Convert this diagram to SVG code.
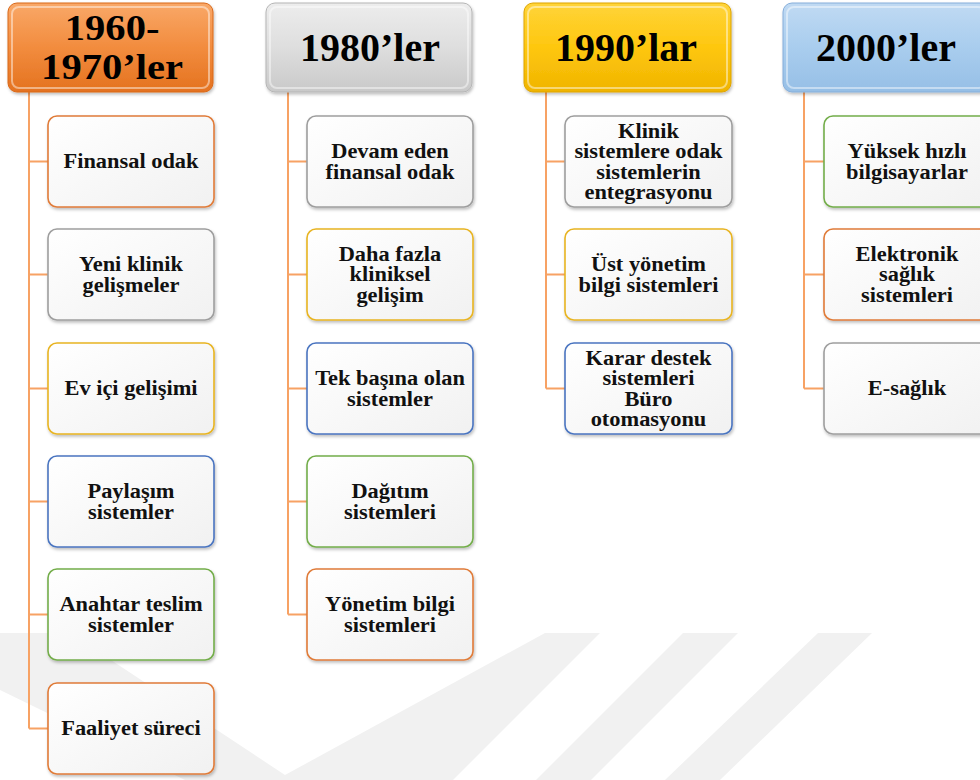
<svg xmlns="http://www.w3.org/2000/svg" width="980" height="780" viewBox="0 0 980 780">
<defs>
<style>
.hdr{font-family:"Liberation Serif","Times New Roman",serif;font-weight:bold;font-size:40px;fill:#000;text-anchor:middle}
.hdr2{font-family:"Liberation Serif","Times New Roman",serif;font-weight:bold;font-size:35px;fill:#000;text-anchor:middle}
.lbl{font-family:"Liberation Serif","Times New Roman",serif;font-weight:bold;font-size:20px;fill:#111;text-anchor:middle}
.box{fill:url(#boxg);stroke-width:1.6;filter:url(#sh)}
.bev{fill:none;stroke:#fff;stroke-opacity:.45;stroke-width:2}
.con{fill:none;stroke:#F7A264;stroke-width:2}
.wm{fill:#f1f1f1}
.c-or{stroke:#E07B39}.c-gr{stroke:#9E9E9E}.c-go{stroke:#E8B422}.c-bl{stroke:#4A74C0}.c-gn{stroke:#73AD4A}
</style>
<linearGradient id="boxg" x1="0" y1="0" x2="1" y2="1"><stop offset="0" stop-color="#ffffff"/><stop offset="1" stop-color="#f1f1f1"/></linearGradient>
<linearGradient id="gOr" x1="0" y1="0" x2="0" y2="1"><stop offset="0" stop-color="#F9A868"/><stop offset=".5" stop-color="#F28C3E"/><stop offset="1" stop-color="#E4721F"/></linearGradient>
<linearGradient id="gGr" x1="0" y1="0" x2="0" y2="1"><stop offset="0" stop-color="#EDEDED"/><stop offset=".5" stop-color="#DEDEDE"/><stop offset="1" stop-color="#C9C9C9"/></linearGradient>
<linearGradient id="gYe" x1="0" y1="0" x2="0" y2="1"><stop offset="0" stop-color="#FFD43A"/><stop offset=".5" stop-color="#FEC70E"/><stop offset="1" stop-color="#F0B400"/></linearGradient>
<linearGradient id="gBl" x1="0" y1="0" x2="0" y2="1"><stop offset="0" stop-color="#C0DAF3"/><stop offset=".5" stop-color="#A9CDEE"/><stop offset="1" stop-color="#96BFE6"/></linearGradient>
<filter id="sh" x="-10%" y="-10%" width="125%" height="130%"><feDropShadow dx="1" dy="2" stdDeviation="1.5" flood-color="#000" flood-opacity=".25"/></filter>
</defs>
<rect width="980" height="780" fill="#fff"/>
<g id="watermark">
<polygon class="wm" points="0,633 70,633 285,775 545,633 600,633 453,780 185,780 0,690"/>
<polygon class="wm" points="683,633 738,633 591,780 536,780"/>
<polygon class="wm" points="818,633 872,633 720,780 665,780"/>
</g>
<g id="connectors">
<path class="con" d="M29,92V728.5M29,161.5H48M29,274.5H48M29,388.5H48M29,501.5H48M29,614.5H48M29,728.5H48"/>
<path class="con" d="M288,92V614.5M288,161.5H307M288,274.5H307M288,388.5H307M288,501.5H307M288,614.5H307"/>
<path class="con" d="M546,92V388.5M546,161.5H565M546,274.5H565M546,388.5H565"/>
<path class="con" d="M804,92V388.5M804,161.5H824M804,274.5H824M804,388.5H824"/>
</g>
<g id="h1960"><rect x="8" y="3" width="205" height="89" rx="9" fill="url(#gOr)" stroke="#D9681A" stroke-width="1" filter="url(#sh)"/><rect class="bev" x="12" y="7" width="197" height="81" rx="7"/>
<g transform="matrix(1.16 0 0 1 -17.8 0)"><text class="hdr2" x="112" y="40">1960-</text><text class="hdr2" x="112" y="79">1970’ler</text></g></g>
<g id="h1980"><rect x="266" y="3" width="206" height="89" rx="9" fill="url(#gGr)" stroke="#B5B5B5" stroke-width="1" filter="url(#sh)"/><rect class="bev" x="270" y="7" width="198" height="81" rx="7"/>
<text class="hdr" x="370" y="61">1980’ler</text></g>
<g id="h1990"><rect x="524" y="3" width="207" height="89" rx="9" fill="url(#gYe)" stroke="#DDA400" stroke-width="1" filter="url(#sh)"/><rect class="bev" x="528" y="7" width="199" height="81" rx="7"/>
<text class="hdr" x="626" y="61">1990’lar</text></g>
<g id="h2000"><rect x="783" y="3" width="206" height="89" rx="9" fill="url(#gBl)" stroke="#86AEDA" stroke-width="1" filter="url(#sh)"/><rect class="bev" x="787" y="7" width="198" height="81" rx="7"/>
<text class="hdr" x="886" y="61">2000’ler</text></g>

<g id="n1a"><rect class="box c-or" x="48" y="116" width="166" height="91" rx="9"/><g transform="matrix(1.12 0 0 1 -15.72 0)"><text class="lbl" x="131" y="168.5">Finansal odak</text></g></g>
<g id="n1b"><rect class="box c-gr" x="48" y="229" width="166" height="91" rx="9"/><g transform="matrix(1.12 0 0 1 -15.72 0)"><text class="lbl" x="131" y="271.2">Yeni klinik</text><text class="lbl" x="131" y="291.7">gelişmeler</text></g></g>
<g id="n1c"><rect class="box c-go" x="48" y="343" width="166" height="91" rx="9"/><g transform="matrix(1.12 0 0 1 -15.72 0)"><text class="lbl" x="131" y="395.5">Ev içi gelişimi</text></g></g>
<g id="n1d"><rect class="box c-bl" x="48" y="456" width="166" height="91" rx="9"/><g transform="matrix(1.12 0 0 1 -15.72 0)"><text class="lbl" x="131" y="498.2">Paylaşım</text><text class="lbl" x="131" y="518.7">sistemler</text></g></g>
<g id="n1e"><rect class="box c-gn" x="48" y="569" width="166" height="91" rx="9"/><g transform="matrix(1.12 0 0 1 -15.72 0)"><text class="lbl" x="131" y="611.2">Anahtar teslim</text><text class="lbl" x="131" y="631.7">sistemler</text></g></g>
<g id="n1f"><rect class="box c-or" x="48" y="683" width="166" height="91" rx="9"/><g transform="matrix(1.12 0 0 1 -15.72 0)"><text class="lbl" x="131" y="735.5">Faaliyet süreci</text></g></g>

<g id="n2a"><rect class="box c-gr" x="307" y="116" width="166" height="91" rx="9"/><g transform="matrix(1.12 0 0 1 -46.8 0)"><text class="lbl" x="390" y="158.2">Devam eden</text><text class="lbl" x="390" y="178.7">finansal odak</text></g></g>
<g id="n2b"><rect class="box c-go" x="307" y="229" width="166" height="91" rx="9"/><g transform="matrix(1.12 0 0 1 -46.8 0)"><text class="lbl" x="390" y="261">Daha fazla</text><text class="lbl" x="390" y="281.5">kliniksel</text><text class="lbl" x="390" y="302">gelişim</text></g></g>
<g id="n2c"><rect class="box c-bl" x="307" y="343" width="166" height="91" rx="9"/><g transform="matrix(1.12 0 0 1 -46.8 0)"><text class="lbl" x="390" y="385.2">Tek başına olan</text><text class="lbl" x="390" y="405.7">sistemler</text></g></g>
<g id="n2d"><rect class="box c-gn" x="307" y="456" width="166" height="91" rx="9"/><g transform="matrix(1.12 0 0 1 -46.8 0)"><text class="lbl" x="390" y="498.2">Dağıtım</text><text class="lbl" x="390" y="518.7">sistemleri</text></g></g>
<g id="n2e"><rect class="box c-or" x="307" y="569" width="166" height="91" rx="9"/><g transform="matrix(1.12 0 0 1 -46.8 0)"><text class="lbl" x="390" y="611.2">Yönetim bilgi</text><text class="lbl" x="390" y="631.7">sistemleri</text></g></g>

<g id="n3a"><rect class="box c-gr" x="565" y="116" width="167" height="91" rx="9"/><g transform="matrix(1.12 0 0 1 -77.82 0)"><text class="lbl" x="648.5" y="137.7">Klinik</text><text class="lbl" x="648.5" y="158.2">sistemlere odak</text><text class="lbl" x="648.5" y="178.7">sistemlerin</text><text class="lbl" x="648.5" y="199.2">entegrasyonu</text></g></g>
<g id="n3b"><rect class="box c-go" x="565" y="229" width="167" height="91" rx="9"/><g transform="matrix(1.12 0 0 1 -77.82 0)"><text class="lbl" x="648.5" y="271.2">Üst yönetim</text><text class="lbl" x="648.5" y="291.7">bilgi sistemleri</text></g></g>
<g id="n3c"><rect class="box c-bl" x="565" y="343" width="167" height="91" rx="9"/><g transform="matrix(1.12 0 0 1 -77.82 0)"><text class="lbl" x="648.5" y="364.7">Karar destek</text><text class="lbl" x="648.5" y="385.2">sistemleri</text><text class="lbl" x="648.5" y="405.7">Büro</text><text class="lbl" x="648.5" y="426.2">otomasyonu</text></g></g>

<g id="n4a"><rect class="box c-gn" x="824" y="116" width="166" height="91" rx="9"/><g transform="matrix(1.12 0 0 1 -108.84 0)"><text class="lbl" x="907" y="158.2">Yüksek hızlı</text><text class="lbl" x="907" y="178.7">bilgisayarlar</text></g></g>
<g id="n4b"><rect class="box c-or" x="824" y="229" width="166" height="91" rx="9"/><g transform="matrix(1.12 0 0 1 -108.84 0)"><text class="lbl" x="907" y="261">Elektronik</text><text class="lbl" x="907" y="281.5">sağlık</text><text class="lbl" x="907" y="302">sistemleri</text></g></g>
<g id="n4c"><rect class="box c-gr" x="824" y="343" width="166" height="91" rx="9"/><g transform="matrix(1.12 0 0 1 -108.84 0)"><text class="lbl" x="907" y="395.5">E-sağlık</text></g></g>
</svg>
